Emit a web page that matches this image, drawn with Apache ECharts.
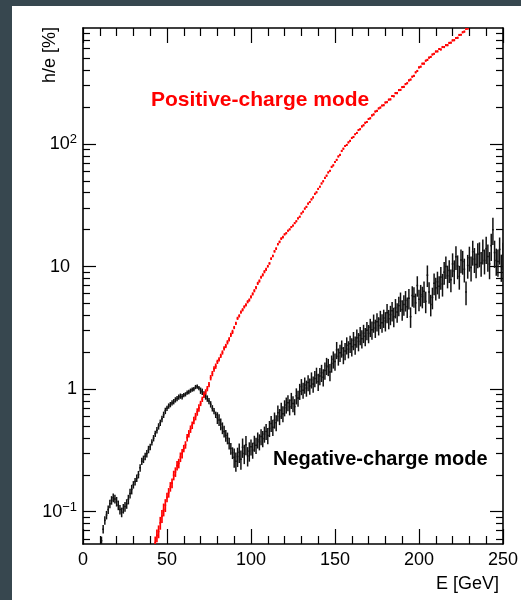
<!DOCTYPE html>
<html><head><meta charset="utf-8">
<script src="https://cdn.jsdelivr.net/npm/echarts@6/dist/echarts.min.js"></script>
<style>
html,body{margin:0;padding:0;width:521px;height:600px;background:#37474f;overflow:hidden;}
#c{position:absolute;left:12px;top:6px;width:509px;height:594px;background:#fff;}
</style></head><body><div id="c"></div>
<script>
// ---- axis ranges and ticks ----
const xRange = [0, 250];
const yRange = [0.0545, 883];
const yMajorTicks = [0.1, 1, 10, 100];
const yMinorTicks = [0.06,0.07,0.08,0.09, 0.2,0.3,0.4,0.5,0.6,0.7,0.8,0.9,
                     2,3,4,5,6,7,8,9, 20,30,40,50,60,70,80,90, 200,300,400,500,600,700,800];

// ---- Negative-charge mode (black), 1 GeV bins starting at E = 11 ----
const negStartE = 11;
const negVals = [
0.058,0.072,0.085,0.094,0.104,0.116,0.124,0.13,0.127,0.121,
0.113,0.104,0.099,0.106,0.11,0.116,0.126,0.141,0.152,0.166,
0.176,0.188,0.201,0.228,0.258,0.268,0.283,0.298,0.322,0.338,
0.368,0.398,0.432,0.462,0.497,0.532,0.572,0.618,0.665,0.698,
0.728,0.748,0.772,0.79,0.818,0.838,0.862,0.877,0.868,0.893,
0.907,0.935,0.948,0.972,0.99,1.0,1.04,1.05,1.02,0.972,
0.952,0.905,0.872,0.838,0.8,0.752,0.698,0.662,0.618,0.583,
0.561,0.518,0.482,0.452,0.418,0.398,0.362,0.328,0.302,0.278,
0.258,0.282,0.305,0.268,0.335,0.298,0.352,0.285,0.312,0.338,
0.318,0.362,0.348,0.385,0.372,0.41,0.395,0.43,0.452,0.418,
0.478,0.525,0.488,0.56,0.532,0.64,0.598,0.672,0.63,0.705,
0.742,0.775,0.718,0.81,0.762,0.72,0.882,0.845,0.96,1.05,
0.98,1.08,1.02,1.13,1.06,1.19,1.1,1.22,1.3,1.15,
1.28,1.36,1.25,1.42,1.55,1.52,1.38,1.62,1.75,1.68,
2.09,1.85,1.98,2.15,1.9,2.05,2.28,2.12,2.35,2.22,
2.5,2.3,2.62,2.45,2.75,2.58,2.86,2.7,3.02,2.85,
3.2,3.05,3.47,3.15,3.55,3.3,3.72,3.48,3.8,3.6,
4.2,3.75,4.05,4.35,3.9,4.6,4.25,4.8,5.2,4.45,
4.9,5.3,4.7,5.5,3.9,5.8,5.7,5.05,7.0,5.4,
5.9,5.7,6.3,5.2,8.5,6.2,4.9,5.6,7.3,6.7,
7.5,6.9,8.2,7.2,9.0,10.0,8.4,9.3,7.8,10.5,
9.2,12.0,10.1,8.3,11.3,11.0,9.5,6.2,10.2,11.8,
9.8,13.2,11.5,10.4,12.6,12.8,10.7,13.5,11.2,14.0,
12.1,10.5,14.8,20.0,13.0,11.2,11.0,13.8,10.0,12.5
];
// relative error (%) per 10 GeV block, starting at 10 GeV
const negErrBlockStart = 10;
const negErrPct = [8,9,7,6,5,4,6,11,18,15,15,15,15,16,16,17,17,18,19,20,21,22,23,25,25];

// ---- Positive-charge mode (red), 1 GeV bins starting at E = 43 ----
const posStartE = 43;
const posVals = [
0.056,0.064,0.069,0.081,0.092,0.104,0.113,0.131,0.143,0.160,
0.171,0.198,0.211,0.238,0.248,0.279,0.298,0.328,0.351,0.402,
0.433,0.472,0.508,0.556,0.598,0.652,0.702,0.765,0.826,0.897,
0.95,1.01,1.09,1.24,1.34,1.46,1.54,1.67,1.75,1.87,
1.99,2.15,2.25,2.41,2.55,2.77,2.93,3.18,3.44,3.78,
3.96,4.25,4.44,4.69,4.87,5.16,5.33,5.66,5.98,6.35,
6.72,7.29,7.62,8.18,8.55,9.08,9.5,10.05,10.6,11.6,
12.2,13.3,14.0,15.2,15.9,16.9,17.4,18.3,18.7,19.6,
20.1,21.0,21.6,22.6,23.4,24.7,25.5,27.1,28.0,29.7,
30.7,32.6,33.6,35.3,36.6,39.2,40.3,43.0,44.8,47.6,
49.6,52.9,55.1,58.6,60.4,65.1,66.9,71.3,74.2,79.1,
81.4,87.8,91.5,96.2,98.1,103,106,112,114,120,
123,130,132,139,142,149,151,160,162,171,
174,184,186,195,198,206,207,218,219,230,
231,246,245,260,260,275,276,291,292,308,
313,330,335,354,359,384,394,422,427,452,
452,478,485,506,513,537,544,568,569,595,
590,618,617,640,639,668,670,700,702,732,
735,775,778,815,825,870,874
];
const posErrBlockStart = 40;
const posErrPct = [12,9,7,5,4,3,3,2.5,2,2,2,2,2,2,2,2,2,2,2,2];

// ---- labels ----
const xTitle = 'E [GeV]';
const yTitle = 'h/e [%]';
const posLabel = 'Positive-charge mode';
const negLabel = 'Negative-charge mode';

const FONT = '"Liberation Sans", Arial, Helvetica, sans-serif';
const L = Math.log10;

function buildRows(startE, vals, blockStart, errPct) {
  return vals.map((v, i) => {
    const e = startE + i;
    const ep = errPct[Math.min(errPct.length - 1, Math.floor((e - blockStart) / 10))] / 100;
    return [e, L(v), L(v * (1 - ep)), L(v * (1 + ep))];
  });
}
const negRows = buildRows(negStartE, negVals, negErrBlockStart, negErrPct);
const posRows = buildRows(posStartE, posVals, posErrBlockStart, posErrPct);

function renderer(color, lw) {
  return function (params, api) {
    const e = api.value(0), v = api.value(1), lo = api.value(2), hi = api.value(3);
    const pl = api.coord([e, lo]), ph = api.coord([e, hi]);
    const pa = api.coord([e - 0.5, v]), pb = api.coord([e + 0.5, v]);
    const st = { stroke: color, lineWidth: lw };
    const xc = (pa[0] + pb[0]) / 2;
    return { type: 'group', children: [
      { type: 'line', shape: { x1: xc, y1: pl[1], x2: xc, y2: ph[1] }, style: st },
      { type: 'line', shape: { x1: pa[0], y1: pa[1], x2: pb[0], y2: pb[1] }, style: st }
    ]};
  };
}

const yMin = L(yRange[0]), yMax = L(yRange[1]);
const majorVals = yMajorTicks.map(t => L(t));
const minorVals = yMinorTicks.map(t => L(t));

function xAxisDef(pos, labels) {
  return {
    type: 'value', min: xRange[0], max: xRange[1], interval: 50, position: pos,
    axisLine: { show: true, onZero: false, lineStyle: { color: '#000', width: 1.6 } },
    axisTick: { show: true, inside: true, length: 15, lineStyle: { color: '#000', width: 1.2 } },
    minorTick: { show: true, splitNumber: 5, length: 8, lineStyle: { color: '#000', width: 1.2 } },
    axisLabel: { show: labels, fontSize: 18, color: '#000', margin: 7, fontFamily: FONT },
    splitLine: { show: false }, minorSplitLine: { show: false }
  };
}
function yAxisDef(pos, major, labels) {
  const vals = major ? majorVals : minorVals;
  return {
    type: 'value', min: yMin, max: yMax, position: pos,
    axisLine: { show: major, onZero: false, lineStyle: { color: '#000', width: 1.6 } },
    axisTick: { show: true, inside: true, length: major ? 13 : 7, customValues: vals,
                lineStyle: { color: '#000', width: 1.2 } },
    axisLabel: labels ? {
      show: true, customValues: majorVals, margin: 6, color: '#000', fontFamily: FONT,
      formatter: function (v) {
        const p = Math.round(v);
        if (p === 0) return '{b|1}';
        if (p === 1) return '{b|10}{g|}';
        return '{b|10}{s|' + (p < 0 ? '\u2212' : '') + Math.abs(p) + '}';
      },
      rich: {
        b: { fontSize: 18, fontFamily: FONT, color: '#000', lineHeight: 22 },
        s: { fontSize: 13, fontFamily: FONT, color: '#000', verticalAlign: 'top', lineHeight: 22, padding: [0, 0, 6, 0] },
        g: { width: 7 }
      }
    } : { show: false },
    splitLine: { show: false }
  };
}

const chart = echarts.init(document.getElementById('c'), null, { renderer: 'canvas' });
chart.setOption({
  animation: false,
  backgroundColor: '#fff',
  grid: { left: 71, right: 14, top: 22, bottom: 56, containLabel: false },
  xAxis: [xAxisDef('bottom', true), xAxisDef('top', false)],
  yAxis: [yAxisDef('left', true, true), yAxisDef('right', true, false),
          yAxisDef('left', false, false), yAxisDef('right', false, false)],
  series: [
    { type: 'custom', name: 'Negative-charge mode', xAxisIndex: 0, yAxisIndex: 0, clip: true,
      renderItem: renderer('#111', 1.5), encode: { x: 0, y: [1, 2, 3] }, data: negRows },
    { type: 'custom', name: 'Positive-charge mode', xAxisIndex: 0, yAxisIndex: 0, clip: true,
      renderItem: renderer('#ff0000', 1.7), encode: { x: 0, y: [1, 2, 3] }, data: posRows }
  ],
  graphic: [
    { type: 'text', x: 139, y: 94, style: { text: posLabel, fill: '#ff0000', fontSize: 21, fontWeight: 'bold',
      fontFamily: FONT, align: 'left', verticalAlign: 'middle' } },
    { type: 'text', x: 261, y: 453, style: { text: negLabel, fill: '#000', fontSize: 20, fontWeight: 'bold',
      fontFamily: FONT, align: 'left', verticalAlign: 'middle' } },
    { type: 'text', x: 38, y: 21, rotation: Math.PI / 2, style: { text: yTitle, fill: '#000', fontSize: 18,
      fontFamily: FONT, align: 'right', verticalAlign: 'middle' } },
    { type: 'text', x: 487, y: 578, style: { text: xTitle, fill: '#000', fontSize: 18,
      fontFamily: FONT, align: 'right', verticalAlign: 'middle' } }
  ]
});
</script></body></html>
